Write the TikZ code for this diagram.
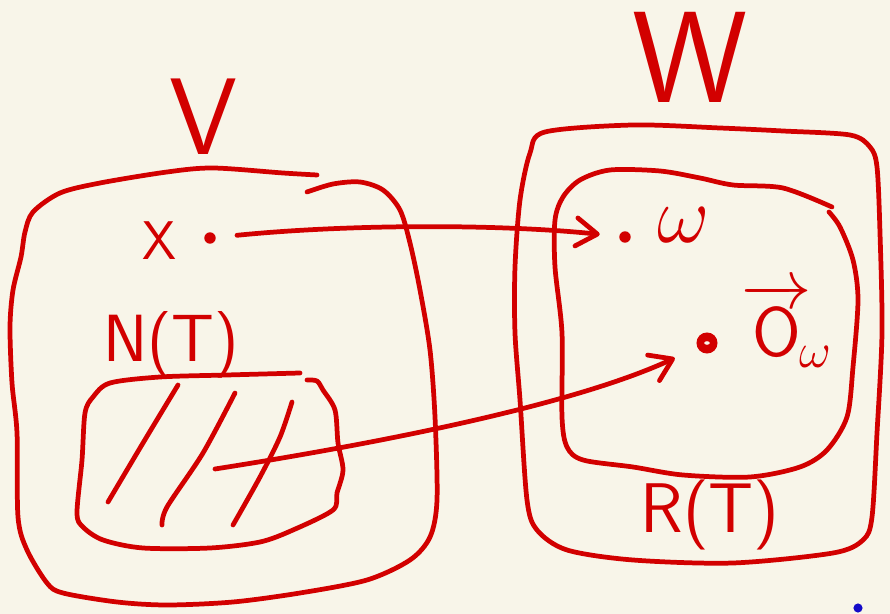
\RequirePackage{fix-cm}
\documentclass[tikz,border=0pt]{standalone}
\usepackage{fontspec}
\usetikzlibrary{arrows.meta}

\definecolor{ink}{RGB}{210,0,0}
\definecolor{paper}{RGB}{248,245,233}
\definecolor{penblue}{RGB}{20,10,200}

\begin{document}
\begin{tikzpicture}[x=0.02cm, y=-0.02cm,
    stroke/.style={draw=ink, line width=2.7pt, line cap=round, line join=round},
    dot/.style={circle, fill=ink, inner sep=0pt, minimum size=#1},
    dot/.default=6.5pt,
    lbl/.style={text=ink, inner sep=0pt, font=\sffamily\fontsize{#1}{#1}\selectfont},
    lbl/.default=36,
    >={Straight Barb[length=12pt, width=16pt, round]}]

    \fill [paper, use as bounding box] (0,0) rectangle (890,614);

    % the two sets
    \node (vname) at (204,117) [lbl=62] {V};
    \node (wname) at (690,57) [lbl=74] {W};

    % V and its subset N(T)
    \draw [stroke] plot [smooth] coordinates {(317,175) (283,173) (213,168) (167,172)
        (100,183) (60,193) (33,212) (25,232) (21,257) (13,290) (10,327) (12,383)
        (17,433) (18,517) (27,550) (47,583) (63,593) (117,602) (167,605) (233,602)
        (300,593) (367,580) (410,560) (430,537) (437,500) (435,417) (430,350)
        (420,290) (410,243) (400,210) (383,190) (360,182) (333,184) (307,192)};
    \draw [stroke] plot [smooth] coordinates {(300,373) (227,375) (160,377) (110,383)
        (93,397) (85,413) (82,460) (77,513) (83,527) (103,540) (143,548) (210,548)
        (260,542) (293,530) (333,510) (337,493) (343,470) (338,443) (335,410)
        (323,390) (317,381) (307,380)};
    \draw [stroke] plot [smooth] coordinates {(178,385) (143,443) (108,502)};
    \draw [stroke] plot [smooth] coordinates {(235,393) (203,453) (167,507) (162,525)};
    \draw [stroke] plot [smooth] coordinates {(292,402) (280,437) (260,477) (233,525)};
    \node (nt) at (171,362) [lbl=38, anchor=base] {N(T)};

    \node (x) at (160,241) [lbl=31] {X};
    \node (xdot) at (210,238) [dot] {};
    \coordinate (pre) at (215,469);

    % W and the range R(T)
    \draw [stroke] plot [smooth cycle] coordinates {(545,132) (633,125) (720,128)
        (783,131) (850,135) (870,147) (877,167) (880,233) (882,333) (877,433)
        (872,517) (863,540) (833,553) (733,563) (633,560) (567,550) (537,530)
        (527,500) (520,400) (515,333) (515,267) (520,200) (530,153)};
    \draw [stroke] plot [smooth] coordinates {(832,207) (783,188) (733,185) (700,178)
        (660,171) (610,170) (580,180) (563,197) (555,220) (555,267) (562,333)
        (562,417) (567,447) (583,460) (633,467) (683,475) (750,477) (800,467)
        (827,450) (847,417) (853,367) (858,300) (853,260) (840,227) (829,212)};
    \node (rt) at (710,533) [lbl=40, anchor=base] {R(T)};

    \node (wdot) at (625,237) [dot] {};
    \node (w) at (684,243) [lbl=46, anchor=base] {$\omega$};
    \node (odot) at (707,343) [dot=12pt] {};
    \fill [paper] (odot) ellipse (1.6pt and 1pt);
    \node (o) at (741,357) [lbl=40, anchor=base west] {$\overrightarrow{\textsf{O}}\mkern-3mu{}_{\omega}$};

    % the map T
    \draw [stroke, ->, shorten <=12pt, shorten >=11pt] (xdot) .. controls (350,224) and (500,224) .. (wdot);
    \draw [stroke, ->, shorten >=14pt] (pre) .. controls (400,440) and (580,402) .. (odot);

    \fill [penblue] (858,608) circle (2.6pt);
\end{tikzpicture}
\end{document}
